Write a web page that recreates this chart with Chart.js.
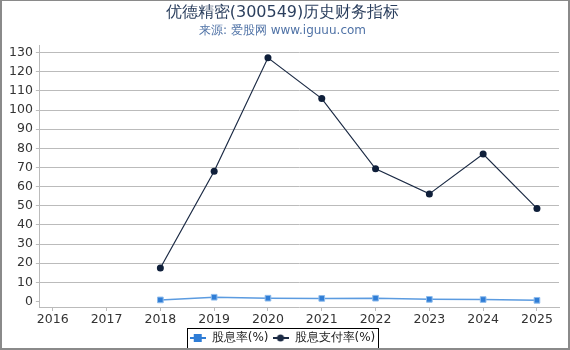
<!DOCTYPE html>
<html>
<head>
<meta charset="utf-8">
<script src="https://cdn.jsdelivr.net/npm/chart.js@4"></script>
<style>
    html, body { margin: 0; padding: 0; background: #fff; }
    #wrap {
        width: 570px; height: 350px; box-sizing: border-box;
        border: 2px solid #8a8a8a; border-top-width: 1px;
    }
    canvas { display: block; }
</style>
</head>
<body>
<div id="wrap"><canvas id="chart" width="566" height="347"></canvas></div>
<script>
// Data
const years = [2016, 2017, 2018, 2019, 2020, 2021, 2022, 2023, 2024, 2025];
const dividendYield = [null, null, 0.8, 2.2, 1.7, 1.6, 1.7, 1.1, 1.0, 0.6];
const payoutRatio = [null, null, 17.5, 68, 127.3, 106, 69.3, 56.2, 77, 48.6];
const yTicks = [0, 10, 20, 30, 40, 50, 60, 70, 80, 90, 100, 110, 120, 130];

const FONT = '"DejaVu Sans", sans-serif';

function toPoints(values) {
    return years.map((y, i) => ({ x: y, y: values[i] }));
}

// legend swatch: short line with a marker in the middle
function legendIcon(color, shape) {
    const c = document.createElement('canvas');
    c.width = 16; c.height = 10;
    const g = c.getContext('2d');
    g.strokeStyle = color;
    g.lineWidth = 2;
    g.beginPath();
    g.moveTo(0, 5); g.lineTo(16, 5);
    g.stroke();
    g.fillStyle = color;
    if (shape === 'rect') {
        g.fillRect(4, 1, 8, 8);
    } else {
        g.beginPath();
        g.arc(8, 5, 3.5, 0, Math.PI * 2);
        g.fill();
    }
    return c;
}

// thin black frame round the legend items only
const legendFrame = {
    id: 'legendFrame',
    afterDraw(chart) {
        const lg = chart.legend;
        if (!lg || !lg.legendHitBoxes || !lg.legendHitBoxes.length) return;
        const boxes = lg.legendHitBoxes;
        const first = boxes[0];
        const last = boxes[boxes.length - 1];
        const x0 = Math.round(first.left - 3);
        const x1 = Math.round(last.left + last.width + 3);
        const y0 = Math.round(first.top - 4);
        const y1 = Math.round(first.top + first.height + 5);
        const ctx = chart.ctx;
        ctx.save();
        ctx.strokeStyle = '#000';
        ctx.lineWidth = 1;
        ctx.strokeRect(x0 + 0.5, y0 + 0.5, x1 - x0, y1 - y0);
        ctx.restore();
    }
};

new Chart(document.getElementById('chart'), {
    type: 'line',
    data: {
        datasets: [{
            label: '股息率(%)',
            data: toPoints(dividendYield),
            borderColor: '#5b9be0',
            backgroundColor: '#2f7dd6',
            borderWidth: 1.5,
            pointStyle: 'rect',
            pointRadius: 4,
            pointBorderColor: '#8fbcec',
            pointBorderWidth: 1,
            spanGaps: false
        }, {
            label: '股息支付率(%)',
            data: toPoints(payoutRatio),
            borderColor: '#1c2b45',
            backgroundColor: '#0f1f3a',
            borderWidth: 1.2,
            pointStyle: 'circle',
            pointRadius: 3.5,
            pointBorderWidth: 0,
            spanGaps: false
        }]
    },
    options: {
        responsive: false,
        animation: false,
        layout: { padding: { left: 4, right: 9, top: 0, bottom: -6 } },
        plugins: {
            title: {
                display: true,
                text: '优德精密(300549)历史财务指标',
                color: '#2b3f5e',
                font: { family: FONT, size: 16, weight: 'normal' },
                padding: { top: 2, bottom: 0 }
            },
            subtitle: {
                display: true,
                text: '来源: 爱股网 www.iguuu.com',
                color: '#4f72a6',
                font: { family: FONT, size: 12 },
                padding: { top: 1, bottom: 8 }
            },
            legend: {
                position: 'bottom',
                labels: {
                    usePointStyle: true,
                    pointStyleWidth: 16,
                    color: '#222',
                    font: { family: FONT, size: 12 },
                    padding: 4,
                    generateLabels(chart) {
                        return chart.data.datasets.map((ds, i) => ({
                            text: ds.label,
                            pointStyle: legendIcon(i === 0 ? '#2f7dd6' : '#1c2b45', i === 0 ? 'rect' : 'circle'),
                            fontColor: '#222',
                            datasetIndex: i,
                            hidden: false,
                            lineWidth: 0
                        }));
                    }
                }
            },
            tooltip: { enabled: false }
        },
        scales: {
            x: {
                type: 'linear',
                min: 2015.76,
                max: 2025.41,
                afterBuildTicks(axis) {
                    axis.ticks = years.map(v => ({ value: v }));
                },
                ticks: {
                    color: '#333',
                    font: { family: FONT, size: 12.5 },
                    padding: 1,
                    callback: v => String(v)
                },
                grid: { display: true, drawOnChartArea: false, tickLength: 4, color: '#bbb' },
                border: { color: '#bbb' }
            },
            y: {
                min: -2.9,
                max: 133.7,
                afterBuildTicks(axis) {
                    axis.ticks = yTicks.map(v => ({ value: v }));
                },
                ticks: {
                    color: '#333',
                    font: { family: FONT, size: 12.5 },
                    padding: 3
                },
                grid: {
                    color: ctx => ctx.tick && ctx.tick.value === 0 ? 'rgba(0,0,0,0)' : '#bbb',
                    tickColor: '#bbb',
                    tickLength: 4
                },
                border: { color: '#bbb' }
            }
        }
    },
    plugins: [legendFrame]
});
</script>
</body>
</html>
